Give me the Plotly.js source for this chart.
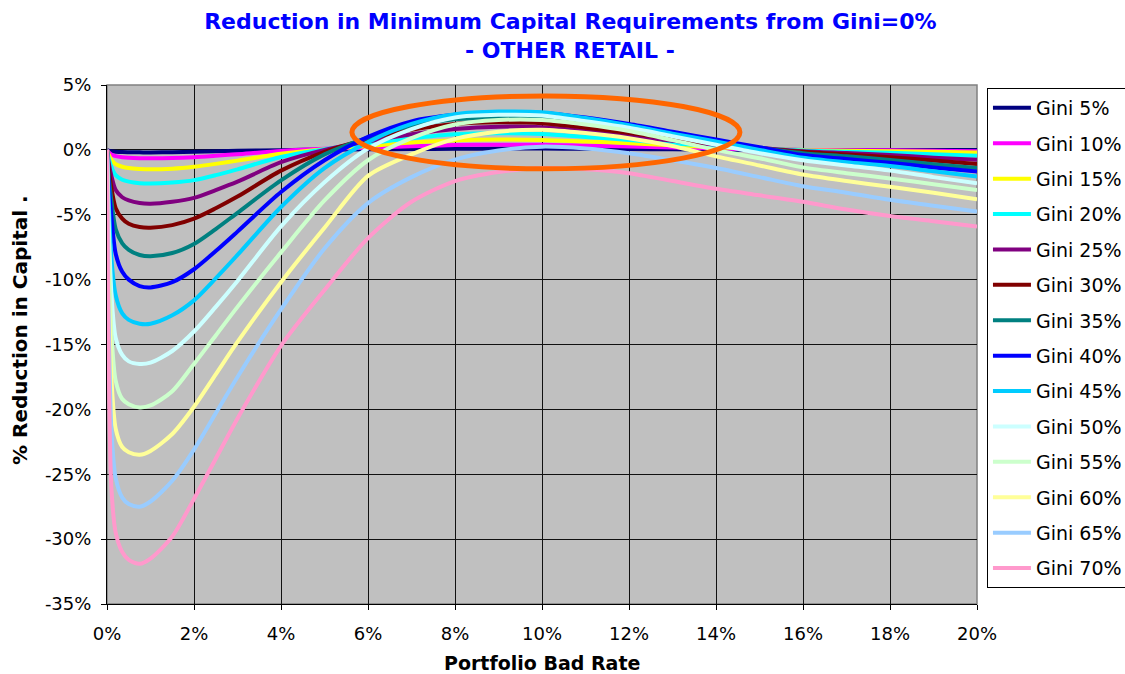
<!DOCTYPE html>
<html>
<head>
<meta charset="utf-8">
<script src="https://cdn.plot.ly/plotly-3.0.1.min.js"></script>
<style>
  html, body { margin: 0; padding: 0; background: #ffffff; }
  #chart { width: 1125px; height: 674px; }
</style>
</head>
<body>
<div id="chart"></div>
<script>
// Portfolio bad rate (%)
const badRate = [0, 0.03, 0.1, 0.2, 0.35, 0.5, 0.75, 1, 1.5, 2, 2.5, 3, 4, 5, 6, 7, 8, 9, 10, 11, 12, 13, 14, 15, 16, 17, 18, 19, 20];

const seriesNames = ["Gini 5%", "Gini 10%", "Gini 15%", "Gini 20%", "Gini 25%", "Gini 30%", "Gini 35%",
                     "Gini 40%", "Gini 45%", "Gini 50%", "Gini 55%", "Gini 60%", "Gini 65%", "Gini 70%"];

// % reduction in capital for each Gini level
const gini05 = [0, -0.05, -0.1, -0.14, -0.17, -0.18, -0.19, -0.2, -0.18, -0.14, -0.1, -0.07, -0.02, 0.02, 0.04, 0.06, 0.08, 0.1, 0.1, 0.08, 0.06, 0.04, 0.02, 0.01, 0.0, 0.0, 0.0, 0.0, 0.0];
const gini10 = [0, -0.15, -0.35, -0.48, -0.57, -0.61, -0.64, -0.65, -0.63, -0.56, -0.45, -0.33, -0.08, 0.08, 0.17, 0.27, 0.37, 0.4, 0.39, 0.33, 0.26, 0.18, 0.1, 0.04, 0.0, -0.02, -0.03, -0.06, -0.1];
const gini15 = [0, -0.3, -0.75, -1.1, -1.3, -1.4, -1.47, -1.5, -1.45, -1.3, -1.08, -0.83, -0.3, 0.05, 0.3, 0.57, 0.75, 0.8, 0.77, 0.65, 0.51, 0.35, 0.2, 0.08, -0.03, -0.07, -0.1, -0.15, -0.2];
const gini20 = [0, -0.5, -1.3, -1.95, -2.3, -2.45, -2.57, -2.6, -2.52, -2.33, -1.95, -1.5, -0.55, 0.05, 0.5, 0.9, 1.2, 1.28, 1.23, 1.0, 0.77, 0.5, 0.3, 0.1, -0.05, -0.15, -0.22, -0.33, -0.45];
const gini25 = [0, -0.8, -2.0, -3.1, -3.65, -3.9, -4.1, -4.15, -4.0, -3.7, -3.1, -2.45, -0.95, 0.0, 0.65, 1.2, 1.6, 1.78, 1.75, 1.45, 1.05, 0.7, 0.4, 0.15, -0.1, -0.25, -0.4, -0.6, -0.77];
const gini30 = [0, -1.2, -2.9, -4.5, -5.3, -5.7, -5.95, -6.0, -5.8, -5.3, -4.5, -3.6, -1.6, -0.15, 0.85, 1.55, 2.0, 2.12, 2.05, 1.7, 1.3, 0.85, 0.45, 0.1, -0.15, -0.35, -0.57, -0.82, -1.08];
const gini35 = [0, -1.7, -3.9, -6.1, -7.2, -7.7, -8.1, -8.2, -7.95, -7.25, -6.1, -4.85, -2.35, -0.35, 0.95, 1.85, 2.35, 2.5, 2.45, 2.15, 1.7, 1.15, 0.6, 0.15, -0.25, -0.5, -0.77, -1.1, -1.4];
const gini40 = [0, -2.2, -5.1, -8.0, -9.4, -10.0, -10.5, -10.6, -10.2, -9.2, -7.8, -6.3, -3.25, -0.8, 1.0, 2.2, 2.7, 2.9, 2.85, 2.5, 2.0, 1.4, 0.8, 0.2, -0.4, -0.7, -1.0, -1.35, -1.67];
const gini45 = [0, -3.0, -8.3, -11.2, -12.6, -13.1, -13.4, -13.4, -12.75, -11.6, -9.9, -8.1, -4.4, -1.4, 0.6, 2.0, 2.75, 2.95, 2.9, 2.45, 1.9, 1.25, 0.65, 0.0, -0.6, -0.95, -1.25, -1.65, -2.05];
const gini50 = [0, -4.5, -11.0, -14.5, -15.8, -16.3, -16.5, -16.4, -15.5, -14.0, -12.1, -10.1, -5.9, -2.5, 0.1, 1.6, 2.5, 2.7, 2.65, 2.2, 1.7, 1.05, 0.4, -0.25, -0.8, -1.2, -1.6, -2.1, -2.57];
const gini55 = [0, -6.0, -14.0, -17.8, -19.2, -19.6, -19.85, -19.7, -18.6, -16.5, -14.3, -12.1, -7.9, -3.9, -0.8, 0.9, 1.95, 2.3, 2.3, 1.95, 1.45, 0.75, 0.0, -0.65, -1.35, -1.8, -2.2, -2.65, -3.1];
const gini60 = [0, -8.5, -17.5, -21.5, -22.9, -23.3, -23.5, -23.2, -21.9, -19.8, -17.3, -14.8, -10.2, -6.0, -2.0, -0.35, 0.85, 1.4, 1.55, 1.3, 0.9, 0.3, -0.5, -1.2, -1.9, -2.4, -2.85, -3.3, -3.8];
const gini65 = [0, -11.0, -21.5, -25.3, -26.8, -27.3, -27.5, -27.1, -25.5, -23.1, -20.3, -17.5, -12.3, -7.6, -4.1, -2.1, -0.75, -0.05, 0.25, 0.1, -0.26, -0.8, -1.4, -2.1, -2.8, -3.3, -3.85, -4.3, -4.75];
const gini70 = [0, -14.0, -26.0, -29.5, -31.0, -31.6, -31.9, -31.5, -29.8, -26.9, -23.8, -20.7, -15.1, -10.8, -6.8, -4.0, -2.4, -1.7, -1.4, -1.5, -1.8, -2.4, -3.0, -3.5, -4.0, -4.6, -5.1, -5.5, -5.9];

const seriesValues = [gini05, gini10, gini15, gini20, gini25, gini30, gini35, gini40, gini45, gini50, gini55, gini60, gini65, gini70];

const colors = ["#000080", "#ff00ff", "#ffff00", "#00ffff", "#800080", "#800000", "#008080",
                "#0000ff", "#00ccff", "#ccffff", "#ccffcc", "#ffff99", "#99ccff", "#ff99cc"];

const xTickVals = [0, 2, 4, 6, 8, 10, 12, 14, 16, 18, 20];
const yTickVals = [5, 0, -5, -10, -15, -20, -25, -30, -35];

const FONT = "DejaVu Sans, Verdana, sans-serif";

const traces = seriesValues.map((vals, i) => ({
  type: "scatter",
  mode: "lines",
  x: badRate,
  y: vals,
  name: seriesNames[i],
  legendgroup: "g" + i,
  line: { color: colors[i], width: 4, shape: "spline", smoothing: 0.8 },
  hoverinfo: "x+y+name"
}));

const layout = {
  width: 1125,
  height: 674,
  paper_bgcolor: "#ffffff",
  plot_bgcolor: "#c0c0c0",
  margin: { l: 107, r: 148, t: 85, b: 70, autoexpand: false },
  showlegend: true,
  title: {
    text: "<b>Reduction in Minimum Capital Requirements from Gini=0%</b>",
    font: { family: FONT, size: 22, color: "#0000ff" },
    x: 0.507, xanchor: "center", xref: "container",
    y: 0.969, yanchor: "middle", yref: "container"
  },
  xaxis: {
    range: [0, 20],
    tickvals: xTickVals,
    ticktext: xTickVals.map(v => v + "%"),
    showgrid: true, gridcolor: "#111111", gridwidth: 1,
    zeroline: false,
    showline: true, linecolor: "#000000", linewidth: 1,
    ticks: "outside", ticklen: 5, tickcolor: "#000000",
    ticklabelstandoff: 8,
    tickfont: { family: FONT, size: 18, color: "#000000" },
    automargin: false,
    fixedrange: true
  },
  yaxis: {
    range: [-35, 5],
    tickvals: yTickVals,
    ticktext: yTickVals.map(v => v + "%"),
    showgrid: true, gridcolor: "#111111", gridwidth: 1,
    zeroline: false,
    showline: true, linecolor: "#000000", linewidth: 1,
    ticks: "outside", ticklen: 5, tickcolor: "#000000",
    ticklabelstandoff: 6,
    tickfont: { family: FONT, size: 18, color: "#000000" },
    automargin: false,
    fixedrange: true
  },
  legend: {
    xref: "container", yref: "container",
    x: 0.8773, xanchor: "left",
    y: 0.8694, yanchor: "top",
    maxheight: 600,
    bgcolor: "#ffffff",
    bordercolor: "#000000",
    borderwidth: 1,
    font: { family: FONT, size: 19, color: "#000000" },
    tracegroupgap: 7.7,
    itemwidth: 38
  },
  shapes: [
    {
      type: "rect", xref: "paper", yref: "paper",
      x0: 0, x1: 1, y0: 0, y1: 1,
      line: { color: "#808080", width: 1.5 }, layer: "below", fillcolor: "rgba(0,0,0,0)"
    },
    {
      type: "circle", xref: "x", yref: "y",
      x0: 5.63, x1: 14.55, y0: -1.46, y1: 4.16,
      line: { color: "#ff6600", width: 5 }, fillcolor: "rgba(0,0,0,0)", layer: "above"
    }
  ],
  annotations: [
    {
      text: "<b>- OTHER RETAIL -</b>",
      xref: "paper", yref: "paper", x: 0.532, y: 1.0674,
      xanchor: "center", yanchor: "middle", showarrow: false,
      font: { family: FONT, size: 22, color: "#0000ff" }
    },
    {
      text: "<b>Portfolio Bad Rate</b>",
      xref: "paper", yref: "paper", x: 0.5, y: -0.114,
      xanchor: "center", yanchor: "middle", showarrow: false,
      font: { family: FONT, size: 19, color: "#000000" }
    },
    {
      text: "<b>% Reduction in Capital .</b>",
      xref: "paper", yref: "paper", x: -0.1, y: 0.528,
      xanchor: "center", yanchor: "middle", showarrow: false, textangle: -90,
      font: { family: FONT, size: 20, color: "#000000" }
    }
  ]
};

Plotly.newPlot("chart", traces, layout, { displayModeBar: false, staticPlot: true });
</script>
</body>
</html>
